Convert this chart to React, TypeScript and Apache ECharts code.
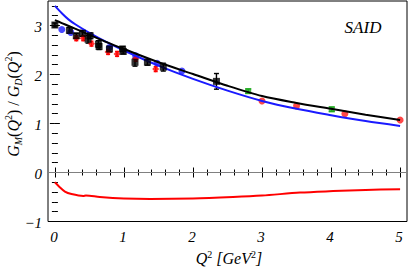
import React, { useEffect, useRef } from "react";
import * as echarts from "echarts";

// ---- data ----
const curveQ = [0, 0.1, 0.2, 0.3, 0.5, 0.75, 1.0, 1.5, 2.0, 2.5, 3.0, 3.5, 4.0, 4.5, 5.0];
const blackCurve = [3.11, 3.05, 2.99, 2.93, 2.81, 2.66, 2.52, 2.25, 2.01, 1.77, 1.56, 1.42, 1.30, 1.18, 1.07];
const blueCurve = [3.40, 3.25, 3.12, 3.02, 2.85, 2.66, 2.49, 2.18, 1.91, 1.67, 1.46, 1.30, 1.17, 1.05, 0.95];

const redCurveQ = [0, 0.07, 0.145, 0.24, 0.41, 0.45, 0.65, 1.0, 1.38, 2.0, 2.58, 3.0, 3.55, 4.03, 4.5, 5.0];
const redCurve = [-0.2, -0.3, -0.39, -0.44, -0.48, -0.47, -0.5, -0.53, -0.54, -0.53, -0.5, -0.47, -0.41, -0.38, -0.355, -0.34];

const blackPtsQ = [0.0, 0.21, 0.31, 0.40, 0.48, 0.51, 0.63, 0.64, 0.79, 0.98, 0.99, 1.16, 1.34, 1.57, 2.34];
const blackPtsG = [3.01, 2.90, 2.79, 2.84, 2.72, 2.79, 2.62, 2.57, 2.52, 2.52, 2.47, 2.25, 2.25, 2.15, 1.86];
const blackPtsErr = [0.04, 0.06, 0.05, 0.06, 0.08, 0.06, 0.07, 0.06, 0.06, 0.05, 0.05, 0.08, 0.06, 0.08, 0.16];

const bluePtsQ = [0.10, 0.23, 0.79, 1.17, 1.48, 1.84];
const bluePtsG = [2.92, 2.86, 2.55, 2.38, 2.23, 2.07];

const redBarQ = [0.31, 0.41, 0.53, 0.77, 0.90, 1.17, 1.46];
const redBarG = [2.74, 2.74, 2.63, 2.46, 2.42, 2.32, 2.11];
const redBarErr = [0.05, 0.05, 0.05, 0.05, 0.05, 0.05, 0.05];

const redPtsQ = [3.0, 3.5, 4.2, 5.0];
const redPtsG = [1.46, 1.36, 1.20, 1.07];

const greenPtsQ = [2.80, 4.01];
const greenPtsG = [1.66, 1.29];
const greenPtsErr = [0.045, 0.045];

const xMajor = [0, 1, 2, 3, 4, 5];
const yMajor = [-1, 0, 1, 2, 3];
const X_MIN = -0.1;
const X_MAX = 5.1;
const Y_MIN = -1;
const Y_MAX = 3.5;

const FONT = "'Liberation Serif', 'Times New Roman', 'DejaVu Serif', serif";

function minorList(lo: number, hi: number, step: number, major: number[]) {
  const out: number[] = [];
  for (let i = Math.ceil(lo / step - 1e-9); i * step <= hi + 1e-9; i++) {
    const v = Math.round(i * step * 1000) / 1000;
    if (!major.some((m) => Math.abs(m - v) < 1e-6)) out.push(v);
  }
  return out;
}

export default function App() {
  const ref = useRef<HTMLDivElement>(null);
  useEffect(() => {
    if (!ref.current) return;
    const chart = echarts.init(ref.current, null, { renderer: "svg" });
    const xMinor = minorList(X_MIN, X_MAX, 0.2, xMajor);
    const yMinor = minorList(Y_MIN, Y_MAX, 0.2, yMajor);

    const zip = (a: number[], b: number[]) => a.map((v, i) => [v, b[i]]);
    const zip3 = (a: number[], b: number[], c: number[]) => a.map((v, i) => [v, b[i], c[i]]);

    const errSeries = (data: number[][], color: string, cap: number) => ({
      type: "custom",
      xAxisIndex: 0,
      yAxisIndex: 0,
      silent: true,
      z: 3,
      data,
      renderItem: (params: any, api: any) => {
        const x = api.value(0);
        const y = api.value(1);
        const e = api.value(2);
        const hi = api.coord([x, y + e]);
        const lo = api.coord([x, y - e]);
        const st = { stroke: color, lineWidth: 1.4 };
        return {
          type: "group",
          children: [
            { type: "line", shape: { x1: hi[0], y1: hi[1], x2: lo[0], y2: lo[1] }, style: st },
            { type: "line", shape: { x1: hi[0] - cap, y1: hi[1], x2: hi[0] + cap, y2: hi[1] }, style: st },
            { type: "line", shape: { x1: lo[0] - cap, y1: lo[1], x2: lo[0] + cap, y2: lo[1] }, style: st },
          ],
        };
      },
    });

    const fmt = (v: number) => (v < 0 ? "\u2212" + Math.abs(v) : String(v));
    const tickFont = "italic 15px " + FONT;

    // tick labels drawn as text through the axis scales
    const xLabelSeries = {
      type: "custom",
      xAxisIndex: 0,
      yAxisIndex: 0,
      silent: true,
      clip: false,
      data: xMajor.map((v) => [v, Y_MIN]),
      renderItem: (params: any, api: any) => {
        const p = api.coord([api.value(0), api.value(1)]);
        return {
          type: "text",
          x: p[0] - 1,
          y: p[1] + 15,
          style: { text: fmt(api.value(0)), font: tickFont, fill: "#000", align: "center", verticalAlign: "middle" },
        };
      },
    };
    const yLabelSeries = {
      type: "custom",
      xAxisIndex: 0,
      yAxisIndex: 0,
      silent: true,
      clip: false,
      data: yMajor.map((v) => [X_MIN, v]),
      renderItem: (params: any, api: any) => {
        const p = api.coord([api.value(0), api.value(1)]);
        return {
          type: "text",
          x: p[0] - 6,
          y: p[1] + 1,
          style: { text: fmt(api.value(1)), font: tickFont, fill: "#000", align: "right", verticalAlign: "middle" },
        };
      },
    };

    const mkX = (pos: string, vals: number[], len: number) => ({
      type: "value",
      position: pos,
      min: X_MIN,
      max: X_MAX,
      axisLine: { show: false },
      splitLine: { show: false },
      axisTick: { show: true, inside: true, length: len, customValues: vals, lineStyle: { color: "#000", width: 1 } },
      axisLabel: { show: false },
    });
    const mkY = (pos: string, vals: number[], len: number) => ({
      type: "value",
      position: pos,
      min: Y_MIN,
      max: Y_MAX,
      axisLine: { show: false },
      splitLine: { show: false },
      axisTick: { show: true, inside: true, length: len, customValues: vals, lineStyle: { color: "#000", width: 1 } },
      axisLabel: { show: false },
    });

    const it = (size: number) => ({ fontFamily: FONT, fontStyle: "italic", fontSize: size, fill: "#000" });

    chart.setOption({
      animation: false,
      grid: { left: 48, right: 2, top: 1, bottom: 50.5, show: true, borderColor: "#000", borderWidth: 1, backgroundColor: "transparent" },
      xAxis: [mkX("bottom", xMajor, 5), mkX("bottom", xMinor, 3), mkX("top", xMajor, 5), mkX("top", xMinor, 3)],
      yAxis: [mkY("left", yMajor, 5), mkY("left", yMinor, 3), mkY("right", yMajor, 5), mkY("right", yMinor, 3)],
      graphic: [
        {
          type: "text",
          x: 229,
          y: 258,
          style: {
            text: "{i|Q}{s|2}{n| [}{i|GeV}{s|2}{n|]}",
            align: "center",
            verticalAlign: "middle",
            rich: {
              i: { ...it(16), lineHeight: 18 },
              n: { ...it(16), lineHeight: 18 },
              s: { fontFamily: FONT, fontSize: 10, fill: "#000", verticalAlign: "top", lineHeight: 18 },
            },
          },
        },
        {
          type: "text",
          x: 13,
          y: 104,
          rotation: Math.PI / 2,
          style: {
            text: "{i|G}{b|M}{n|(}{i|Q}{s|2}{n|) / }{i|G}{b|D}{n|(}{i|Q}{s|2}{n|)}",
            align: "center",
            verticalAlign: "middle",
            rich: {
              i: { ...it(16), lineHeight: 20 },
              n: { fontFamily: FONT, fontSize: 16, fill: "#000", lineHeight: 20 },
              s: { fontFamily: FONT, fontSize: 10, fill: "#000", verticalAlign: "top", lineHeight: 20 },
              b: { ...it(10), verticalAlign: "bottom", lineHeight: 20 },
            },
          },
        },
        {
          type: "text",
          x: 363,
          y: 27,
          style: { text: "SAID", font: "italic 17px " + FONT, fill: "#000", align: "center", verticalAlign: "middle" },
        },
      ],
      series: [
        xLabelSeries,
        yLabelSeries,
        {
          type: "line",
          xAxisIndex: 0,
          yAxisIndex: 0,
          data: zip(redCurveQ, redCurve),
          showSymbol: false,
          smooth: 0.3,
          lineStyle: { color: "#ff0000", width: 2 },
          z: 2,
          markLine: {
            silent: true,
            symbol: "none",
            label: { show: false },
            lineStyle: { color: "#808080", width: 1.2, type: "solid" },
            data: [{ yAxis: 0 }],
          },
        },
        errSeries(zip3(blackPtsQ, blackPtsG, blackPtsErr), "#000", 2.5),
        errSeries(zip3(redBarQ, redBarG, redBarErr), "#ff0000", 2),
        errSeries(zip3(greenPtsQ, greenPtsG, greenPtsErr), "#1faa1f", 3),
        {
          type: "scatter",
          xAxisIndex: 0,
          yAxisIndex: 0,
          data: zip(bluePtsQ, bluePtsG),
          symbol: "circle",
          symbolSize: 7,
          itemStyle: { color: "#1a1aff" },
          z: 3,
        },
        {
          type: "scatter",
          xAxisIndex: 0,
          yAxisIndex: 0,
          data: zip(redBarQ, redBarG),
          symbol: "diamond",
          symbolSize: 7,
          itemStyle: { color: "#ff0000" },
          z: 4,
        },
        {
          type: "scatter",
          xAxisIndex: 0,
          yAxisIndex: 0,
          data: zip(redPtsQ, redPtsG),
          symbol: "circle",
          symbolSize: 7,
          itemStyle: { color: "#ff1a1a" },
          z: 4,
        },
        {
          type: "scatter",
          xAxisIndex: 0,
          yAxisIndex: 0,
          data: zip(greenPtsQ, greenPtsG),
          symbol: "rect",
          symbolSize: 6,
          itemStyle: { color: "#1faa1f" },
          z: 4,
        },
        {
          type: "line",
          xAxisIndex: 0,
          yAxisIndex: 0,
          data: zip(curveQ, blueCurve),
          showSymbol: false,
          smooth: 0.3,
          lineStyle: { color: "#1a1aff", width: 2 },
          z: 5,
        },
        {
          type: "line",
          xAxisIndex: 0,
          yAxisIndex: 0,
          data: zip(curveQ, blackCurve),
          showSymbol: false,
          smooth: 0.3,
          lineStyle: { color: "#000", width: 2 },
          z: 5,
        },
        {
          type: "scatter",
          xAxisIndex: 0,
          yAxisIndex: 0,
          data: zip(blackPtsQ, blackPtsG),
          symbol: "rect",
          symbolSize: 7,
          itemStyle: { color: "#000" },
          z: 6,
        },
      ],
    });
    return () => chart.dispose();
  }, []);
  return <div ref={ref} style={{ width: 409, height: 272, position: "absolute", left: 0, top: 0 }} />;
}
